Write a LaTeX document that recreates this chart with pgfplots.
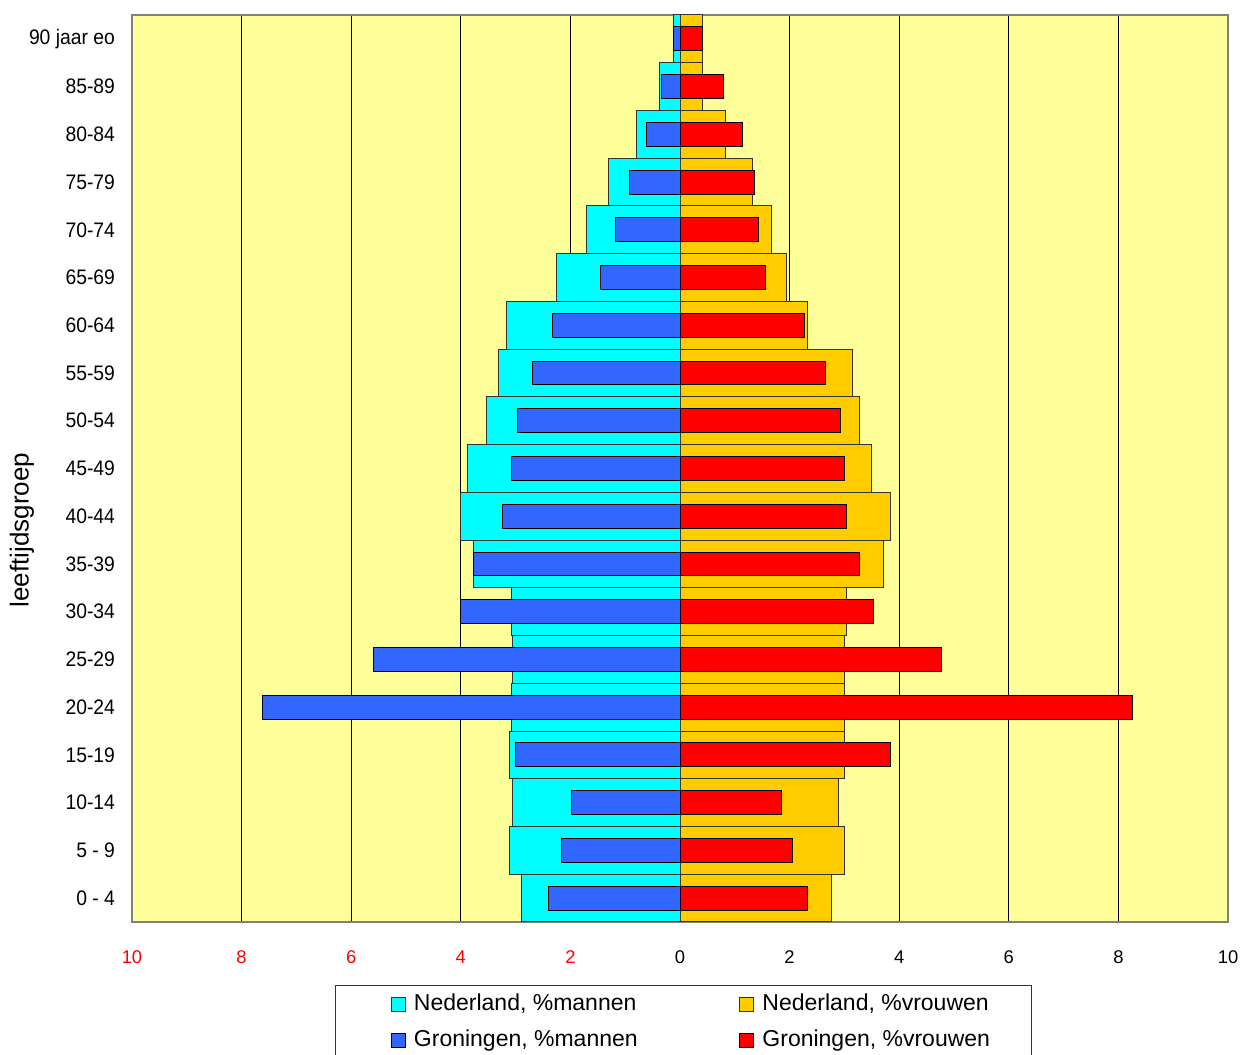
\documentclass[border=0pt]{standalone}
\usepackage{fontspec}
\setmainfont{Liberation Sans}
\newfontfamily\narrowfont[FakeStretch=0.92]{Liberation Sans}
\usepackage{pgfplots}
\usepackage{pgfplotstable}
\pgfplotsset{compat=1.18}
\definecolor{bgyellow}{HTML}{FFFF99}
\definecolor{nlcyan}{HTML}{00FFFF}
\definecolor{nlorange}{HTML}{FFCC00}
\definecolor{grblue}{HTML}{3366FF}
\definecolor{grred}{HTML}{FF0000}
\pgfplotstableread{
y nlm nlv gm gv
0 -2.89 2.77 -2.40 2.32
1 -3.12 3.00 -2.17 2.05
2 -3.05 2.89 -1.98 1.86
3 -3.12 3.00 -3.01 3.84
4 -3.08 3.00 -7.61 8.25
5 -3.05 3.00 -5.60 4.78
6 -3.08 3.04 -4.00 3.53
7 -3.77 3.72 -3.77 3.27
8 -4.00 3.84 -3.24 3.04
9 -3.88 3.49 -3.08 3.01
10 -3.53 3.27 -2.97 2.93
11 -3.31 3.15 -2.70 2.66
12 -3.16 2.32 -2.33 2.27
13 -2.25 1.94 -1.45 1.56
14 -1.71 1.67 -1.18 1.44
15 -1.30 1.32 -0.92 1.36
16 -0.80 0.83 -0.61 1.14
17 -0.38 0.41 -0.34 0.79
18 -0.12 0.41 -0.12 0.41
}\pyr
\begin{document}
\begin{tikzpicture}
\begin{axis}[
  at={(0,0)}, anchor=south west,
  scale only axis, width=548pt, height=453.5pt,
  xmin=-10, xmax=10, ymin=-0.5, ymax=18.5,
  axis background/.style={fill=bgyellow},
  axis line style={draw=gray, line width=1pt},
  xtick={-10,-8,...,10},
  xticklabels={\textcolor{red}{10},\textcolor{red}{8},\textcolor{red}{6},\textcolor{red}{4},\textcolor{red}{2},0,2,4,6,8,10},
  xticklabel style={font=\fontsize{9.2}{11}\selectfont, yshift=-10.7pt},
  ytick={0,...,18},
  yticklabels={0 - 4,5 - 9,10-14,15-19,20-24,25-29,30-34,35-39,40-44,45-49,50-54,55-59,60-64,65-69,70-74,75-79,80-84,85-89,90 jaar eo},
  yticklabel style={font=\narrowfont\fontsize{10.5}{12}\selectfont, xshift=-5pt},
  major tick length=0pt,
  xmajorgrids, grid style={black, line width=0.5pt},
  every axis y label/.style={at={(rel axis cs:0,0.432)}, xshift=-55pt, rotate=90, anchor=center, font=\fontsize{13}{15}\selectfont},
  ylabel={leeftijdsgroep},
  legend columns=2,
  legend image code/.code={\path[draw=none,fill=none] (-28pt,0pt) rectangle (0pt,0.1pt); \draw[#1, line width=0.5pt] (0pt,-3.5pt) rectangle (7pt,3.5pt);},
  legend style={at={(0.1852,0)}, anchor=north west, yshift=-31.5pt,
    draw=black!80, line width=0.5pt, fill=white,
    inner xsep=0pt, inner ysep=3.5pt,
    font=\fontsize{11.5}{13}\selectfont,
    nodes={inner sep=0pt, text height=9pt, text depth=3pt},
    /tikz/column sep=0pt, /tikz/row sep=6pt,
    /tikz/every odd column/.append style={column sep=4pt}},
]
\addplot[xbar, bar width=1, bar shift=0pt, fill=nlcyan, draw=black!80, line width=0.5pt] table[x=nlm, y=y]{\pyr};
\addlegendentry{\makebox[135pt][l]{Nederland, \%mannen}}
\addplot[xbar, bar width=1, bar shift=0pt, fill=nlorange, draw=black!80, line width=0.5pt] table[x=nlv, y=y]{\pyr};
\addlegendentry{\makebox[134.5pt][l]{Nederland, \%vrouwen}}
\addplot[xbar, bar width=0.5, bar shift=0pt, fill=grblue, draw=black, line width=0.5pt] table[x=gm, y=y]{\pyr};
\addlegendentry{\makebox[135pt][l]{Groningen, \%mannen}}
\addplot[xbar, bar width=0.5, bar shift=0pt, fill=grred, draw=black, line width=0.5pt] table[x=gv, y=y]{\pyr};
\addlegendentry{\makebox[134.5pt][l]{Groningen, \%vrouwen}}
\end{axis}
\pgfresetboundingbox
\useasboundingbox (-66pt,-66.5pt) rectangle (555.5pt,461pt);
\end{tikzpicture}
\end{document}
